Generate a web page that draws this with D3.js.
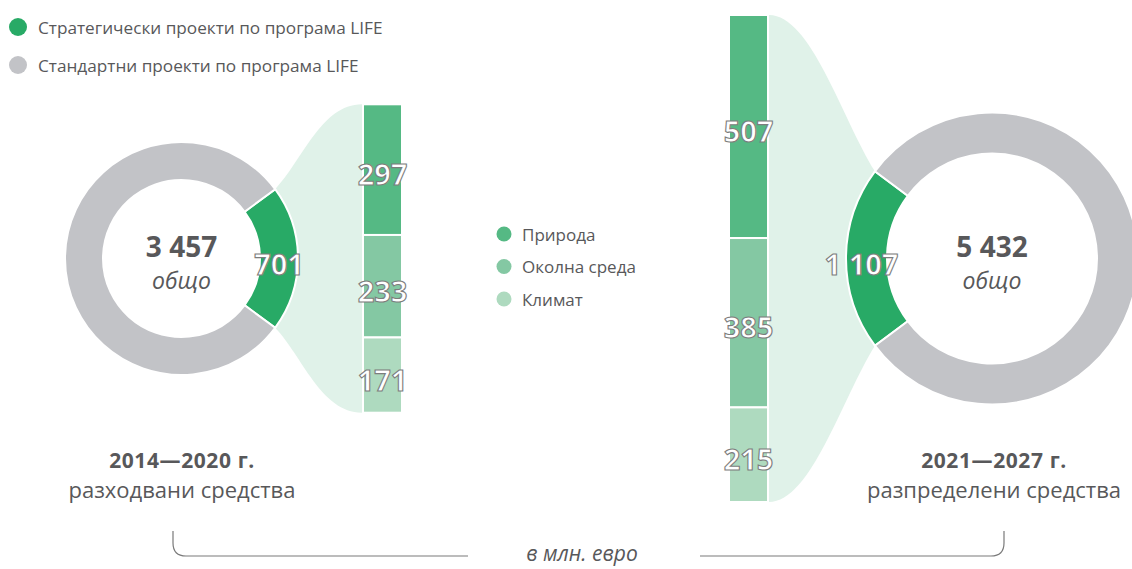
<!DOCTYPE html>
<html><head><meta charset="utf-8">
<script src="https://cdn.jsdelivr.net/npm/d3@7"></script>
<style>
html,body{margin:0;padding:0;background:#fff;}
svg{display:block;font-family:"Open Sans","Noto Sans",sans-serif;}
</style></head>
<body>
<svg id="c" width="1132" height="569"></svg>
<script>
// ---- data ----
const periods = ["2014—2020 г.", "2021—2027 г."];
const periodSub = ["разходвани средства", "разпределени средства"];
const totals = [3457, 5432];
const strategic = [701, 1107];
const themes = ["Природа", "Околна среда", "Климат"];
const themeValues2014 = [297, 233, 171];
const themeValues2021 = [507, 385, 215];
const legendTop = ["Стратегически проекти по програма LIFE", "Стандартни проекти по програма LIFE"];
const unitLabel = "в млн. евро";
const centerWord = "общо";

// ---- styles ----
const C = {green:"#28aa66", gray:"#c2c3c7", funnel:"#e0f2e9",
  themes:["#55b984","#84c8a3","#aedabf"], text:"#58585a", outline:"#7d7d7d"};
const fmt = v => d3.format(",")(v).replace(/,/g," ");

const svg = d3.select("#c");
const cy = 258.5;
const barScale = d3.scaleLinear().domain([0, 1107]).range([0, 487]);

const cfg = [
  {cx:181.5, R:116.5, r:78.5, side:1, barX:363, barW:39, themeVals:themeValues2014, labelX:182, cenDx:0},
  {cx:992, R:146, r:105, side:-1, barX:729, barW:39, themeVals:themeValues2021, labelX:994, cenDx:-5}
];

function outlinedText(g, x, y, txt, size){
  return g.append("text").attr("x",x).attr("y",y).text(txt)
    .attr("text-anchor","middle").attr("dominant-baseline","central")
    .attr("font-size",size).attr("font-weight",700)
    .attr("fill","#fff").attr("stroke",C.outline).attr("stroke-width",1.1);
}

cfg.forEach((c,i)=>{
  const g = svg.append("g");
  const frac = strategic[i]/totals[i];
  const mid = c.side===1 ? Math.PI/2 : 3*Math.PI/2;
  const a0 = mid - frac*Math.PI;
  const pie = d3.pie().sort(null).startAngle(a0).endAngle(a0+2*Math.PI);
  const arcs = pie([strategic[i], totals[i]-strategic[i]]);
  const arc = d3.arc().innerRadius(c.r).outerRadius(c.R);

  // bar geometry
  const H = barScale(strategic[i]);
  const top = cy - H/2, bot = cy + H/2;
  // funnel corners
  const ga = arcs[0];
  const pt = a => [c.cx + c.R*Math.sin(a), cy - c.R*Math.cos(a)];
  const pA = pt(ga.startAngle), pB = pt(ga.endAngle);
  const upper = c.side===1 ? pA : pB;
  const lower = c.side===1 ? pB : pA;
  let path;
  if (c.side===1){
    const bx = c.barX - 1;
    path = `M${upper[0]},${upper[1]} C${upper[0]+27},${upper[1]-28} ${bx-41},${top} ${bx},${top}
            L${bx},${bot} C${bx-41},${bot} ${lower[0]+27},${lower[1]+28} ${lower[0]},${lower[1]} Z`;
  } else {
    const bx = c.barX + c.barW + 1;
    path = `M${bx},${top} C${bx+42},${top} ${upper[0]-33},${upper[1]-53} ${upper[0]},${upper[1]}
            L${lower[0]},${lower[1]} C${lower[0]-33},${lower[1]+53} ${bx+42},${bot} ${bx},${bot} Z`;
  }
  g.append("path").attr("d",path).attr("fill",C.funnel);

  // donut
  g.selectAll("path.arc").data(arcs).join("path").attr("class","arc")
    .attr("d",arc).attr("transform",`translate(${c.cx},${cy})`)
    .attr("fill",(d,j)=> j===0?C.green:C.gray)
    .attr("stroke","#fff").attr("stroke-width",2);

  // bars
  let acc = 0;
  const segs = c.themeVals.map((v,j)=>{ const s={v,j,y0:acc}; acc+=v; return s; });
  g.selectAll("rect.bar").data(segs).join("rect").attr("class","bar")
    .attr("x",c.barX).attr("width",c.barW)
    .attr("y",d=> top + barScale(d.y0)).attr("height",d=> barScale(d.v))
    .attr("fill",d=>C.themes[d.j]).attr("stroke","#fff").attr("stroke-width",2);
  segs.forEach(d=>{
    outlinedText(g, c.barX + c.barW/2, top + barScale(d.y0) + barScale(d.v)/2 + 4, fmt(d.v), 29);
  });

  // centroid label
  const cen = arc.centroid(ga);
  outlinedText(g, c.cx + cen[0] + c.cenDx, cy + cen[1] + 5, fmt(strategic[i]), 29);

  // center text
  g.append("text").attr("x",c.cx).attr("y",cy-2).attr("text-anchor","middle")
    .attr("font-size",28).attr("font-weight",700).attr("fill",C.text).text(fmt(totals[i]));
  g.append("text").attr("x",c.cx).attr("y",cy+30).attr("text-anchor","middle")
    .attr("font-size",23).attr("font-style","italic").attr("fill",C.text).text(centerWord);

  // period labels
  g.append("text").attr("x",c.labelX).attr("y",468).attr("text-anchor","middle")
    .attr("font-size",21).attr("font-weight",700).attr("letter-spacing",0.6)
    .attr("fill",C.text).text(periods[i]);
  g.append("text").attr("x",c.labelX).attr("y",498).attr("text-anchor","middle")
    .attr("font-size",22).attr("fill",C.text).text(periodSub[i]);
});

// top legend
const lt = svg.append("g");
legendTop.forEach((t,i)=>{
  const y = 27 + i*38;
  lt.append("circle").attr("cx",18).attr("cy",y).attr("r",9).attr("fill", i===0?C.green:C.gray);
  lt.append("text").attr("x",38).attr("y",y).attr("dominant-baseline","central")
    .attr("font-size",17.2).attr("fill",C.text).text(t);
});

// theme legend
const tl = svg.append("g");
themes.forEach((t,i)=>{
  const y = 234 + i*32.5;
  tl.append("circle").attr("cx",504).attr("cy",y).attr("r",7.5).attr("fill",C.themes[i]);
  tl.append("text").attr("x",522).attr("y",y).attr("dominant-baseline","central")
    .attr("font-size",17).attr("fill",C.text).text(t);
});

// bottom brace
const by = 556, rr = 13;
svg.append("path").attr("fill","none").attr("stroke","#7a7a7a").attr("stroke-width",1.2)
  .attr("d",`M173,531 L173,${by-rr} Q173,${by} ${173+rr},${by} L468,${by}`);
svg.append("path").attr("fill","none").attr("stroke","#7a7a7a").attr("stroke-width",1.2)
  .attr("d",`M700,${by} L${1004-rr},${by} Q1004,${by} 1004,${by-rr} L1004,531`);
svg.append("text").attr("x",582).attr("y",561).attr("text-anchor","middle")
  .attr("font-size",21).attr("font-style","italic").attr("fill",C.text).text(unitLabel);
</script>
</body></html>
